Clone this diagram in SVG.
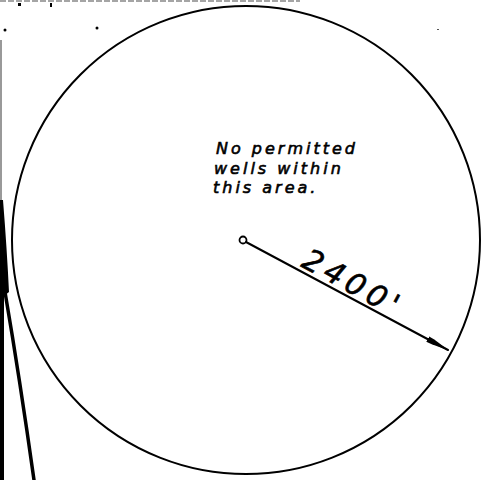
<svg xmlns="http://www.w3.org/2000/svg" width="482" height="480" viewBox="0 0 482 480">
<style>
.ink{fill:none;stroke:#000;stroke-linecap:round}
.hand{font-family:"DejaVu Sans",sans-serif;font-style:italic;fill:#000;stroke:#000;stroke-width:0.6}
.note{font-size:16px;letter-spacing:3px}
</style>
<defs>
<marker id="ah" markerWidth="24" markerHeight="8" refX="23" refY="4" orient="auto" markerUnits="userSpaceOnUse">
<path d="M0,1 L6,1.3 L24,4 L6,6.7 L0,7 Z" fill="#000"/>
</marker>
</defs>
<rect width="482" height="480" fill="#fff"/>
<g id="border">
<path d="M0,1 L300,1" stroke="#888" stroke-width="1.5" stroke-dasharray="6 2"/>
<path d="M1,40 L1,200" stroke="#777" stroke-width="1.5"/>
<path d="M0,200 L3,200 Q7,250 9,292 L4,296 L4,480 L0,480 Z" fill="#000"/>
<path d="M5,292 Q20,380 34,480" class="ink" stroke-width="3.5"/>
<circle cx="5" cy="30" r="1.5" fill="#000"/>
<rect x="18" y="3" width="3" height="3" fill="#000"/>
<rect x="50" y="3" width="2" height="4" fill="#000"/>
<circle cx="97" cy="28" r="1.5" fill="#000"/>
<rect x="437" y="29" width="2" height="1" fill="#555"/>
</g>
<g id="area">
<circle cx="246" cy="240" r="234" class="ink" stroke-width="2"/>
</g>
<g id="center">
<circle cx="243" cy="240" r="3.5" fill="#fff" stroke="#000" stroke-width="1.8"/>
</g>
<g id="connectors">
<path d="M246,242 L448,350" class="ink" stroke-width="2" marker-end="url(#ah)"/>
</g>
<g id="label">
<text class="hand note" x="216" y="154">No permitted</text>
<text class="hand note" x="214" y="173.5">wells within</text>
<text class="hand note" x="213" y="193">this area.</text>
</g>
<g id="dimension">
<text class="hand" font-size="30" letter-spacing="5" transform="translate(300,266) rotate(28.5)">2400'</text>
</g>
</svg>
